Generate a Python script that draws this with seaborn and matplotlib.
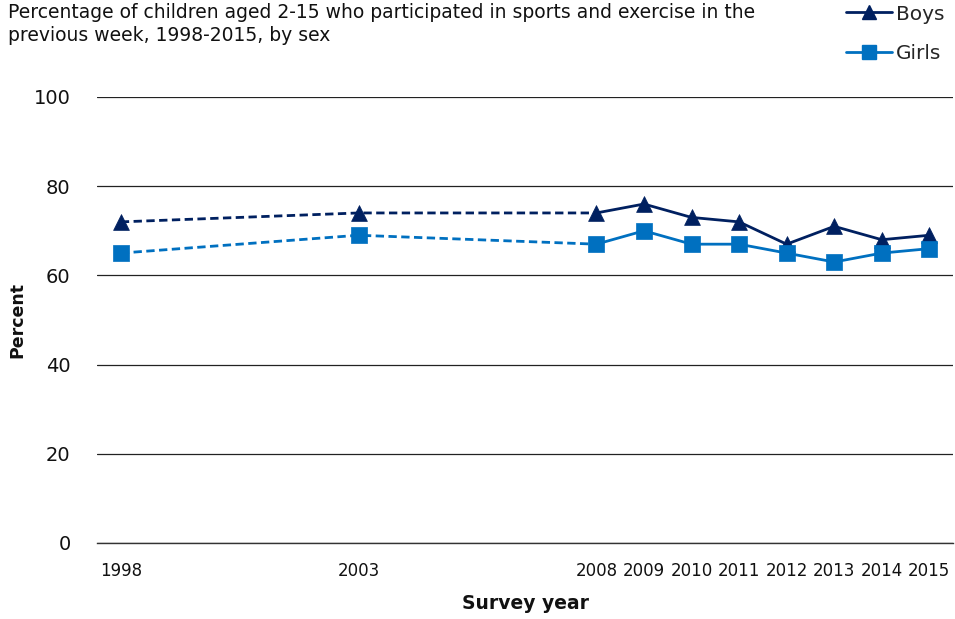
import matplotlib
matplotlib.use("Agg")
import matplotlib.pyplot as plt
from matplotlib.lines import Line2D
import seaborn as sns
import pandas as pd

years = [1998, 2003, 2008, 2009, 2010, 2011, 2012, 2013, 2014, 2015]
boys = [72, 74, 74, 76, 73, 72, 67, 71, 68, 69]
girls = [65, 69, 67, 70, 67, 67, 65, 63, 65, 66]
series_names = ["Boys", "Girls"]
colors = {"Boys": "#002060", "Girls": "#0070C0"}
markers = {"Boys": "^", "Girls": "s"}
yticks = [0, 20, 40, 60, 80, 100]

sns.set_theme(style="white")
plt.rcParams["font.family"] = ["DejaVu Sans"]

df = pd.concat([
    pd.DataFrame({"year": years, "pct": boys, "sex": "Boys"}),
    pd.DataFrame({"year": years, "pct": girls, "sex": "Girls"}),
])
# surveys before 2008 were not annual: join them with dashed lines
sparse = df[df["year"] <= 2008]
annual = df[df["year"] >= 2008]

fig = plt.figure(figsize=(9.55, 6.19), dpi=100)
ax = fig.add_axes([0.1016, 0.1228, 0.8964, 0.7205])

for name in series_names:
    c = colors[name]
    sns.lineplot(data=sparse[sparse["sex"] == name], x="year", y="pct", ax=ax,
                 color=c, lw=2, linestyle=(0, (3, 1.6)), legend=False, zorder=2)
    sns.lineplot(data=annual[annual["sex"] == name], x="year", y="pct", ax=ax,
                 color=c, lw=2, legend=False, zorder=2)
    sns.scatterplot(data=df[df["sex"] == name], x="year", y="pct", ax=ax,
                    color=c, marker=markers[name], s=130, edgecolor=c,
                    linewidth=0.5, legend=False, zorder=3)

ax.set_xlim(1997.5, 2015.5)
ax.set_ylim(0, 100)
ax.set_yticks(yticks)
ax.yaxis.grid(True, color="#222222", lw=0.9)
ax.set_axisbelow(True)
for s in ["top", "right", "left"]:
    ax.spines[s].set_visible(False)
ax.spines["bottom"].set_color("#333333")
ax.spines["bottom"].set_linewidth(1)

label_years = [1998, 2003, 2008, 2009, 2010, 2011, 2012, 2013, 2014, 2015]
ax.set_xticks(label_years)
ax.set_xticklabels([str(y) for y in label_years])
ax.set_xticks([y + 0.5 for y in range(1997, 2016)], minor=True)
ax.tick_params(axis="x", which="major", length=0, pad=14, labelsize=12, colors="#111111")
ax.tick_params(axis="x", which="minor", length=6, width=1, color="#333333", direction="out")
ax.tick_params(axis="y", length=0, pad=19, labelsize=14, colors="#111111")

ax.set_xlabel("Survey year", fontsize=13.5, fontweight="bold", labelpad=10, color="#111111")
ax.set_ylabel("Percent", fontsize=12.5, fontweight="bold", color="#111111")
ax.yaxis.set_label_coords(-0.082, 0.5)

fig.text(0.008, 0.995, "Percentage of children aged 2-15 who participated in sports and exercise in the\nprevious week, 1998-2015, by sex",
         ha="left", va="top", fontsize=13.5, color="#111111", linespacing=1.25)

handles = [Line2D([0], [0], color=colors[n], lw=2, marker=markers[n], markersize=10,
                  markeredgecolor=colors[n]) for n in series_names]
fig.legend(handles, series_names, loc="upper right", bbox_to_anchor=(1.008, 1.022),
           frameon=False, fontsize=14.5, handlelength=2.3, handletextpad=0.2,
           labelspacing=1.0)

fig.savefig("out.png", dpi=100)
